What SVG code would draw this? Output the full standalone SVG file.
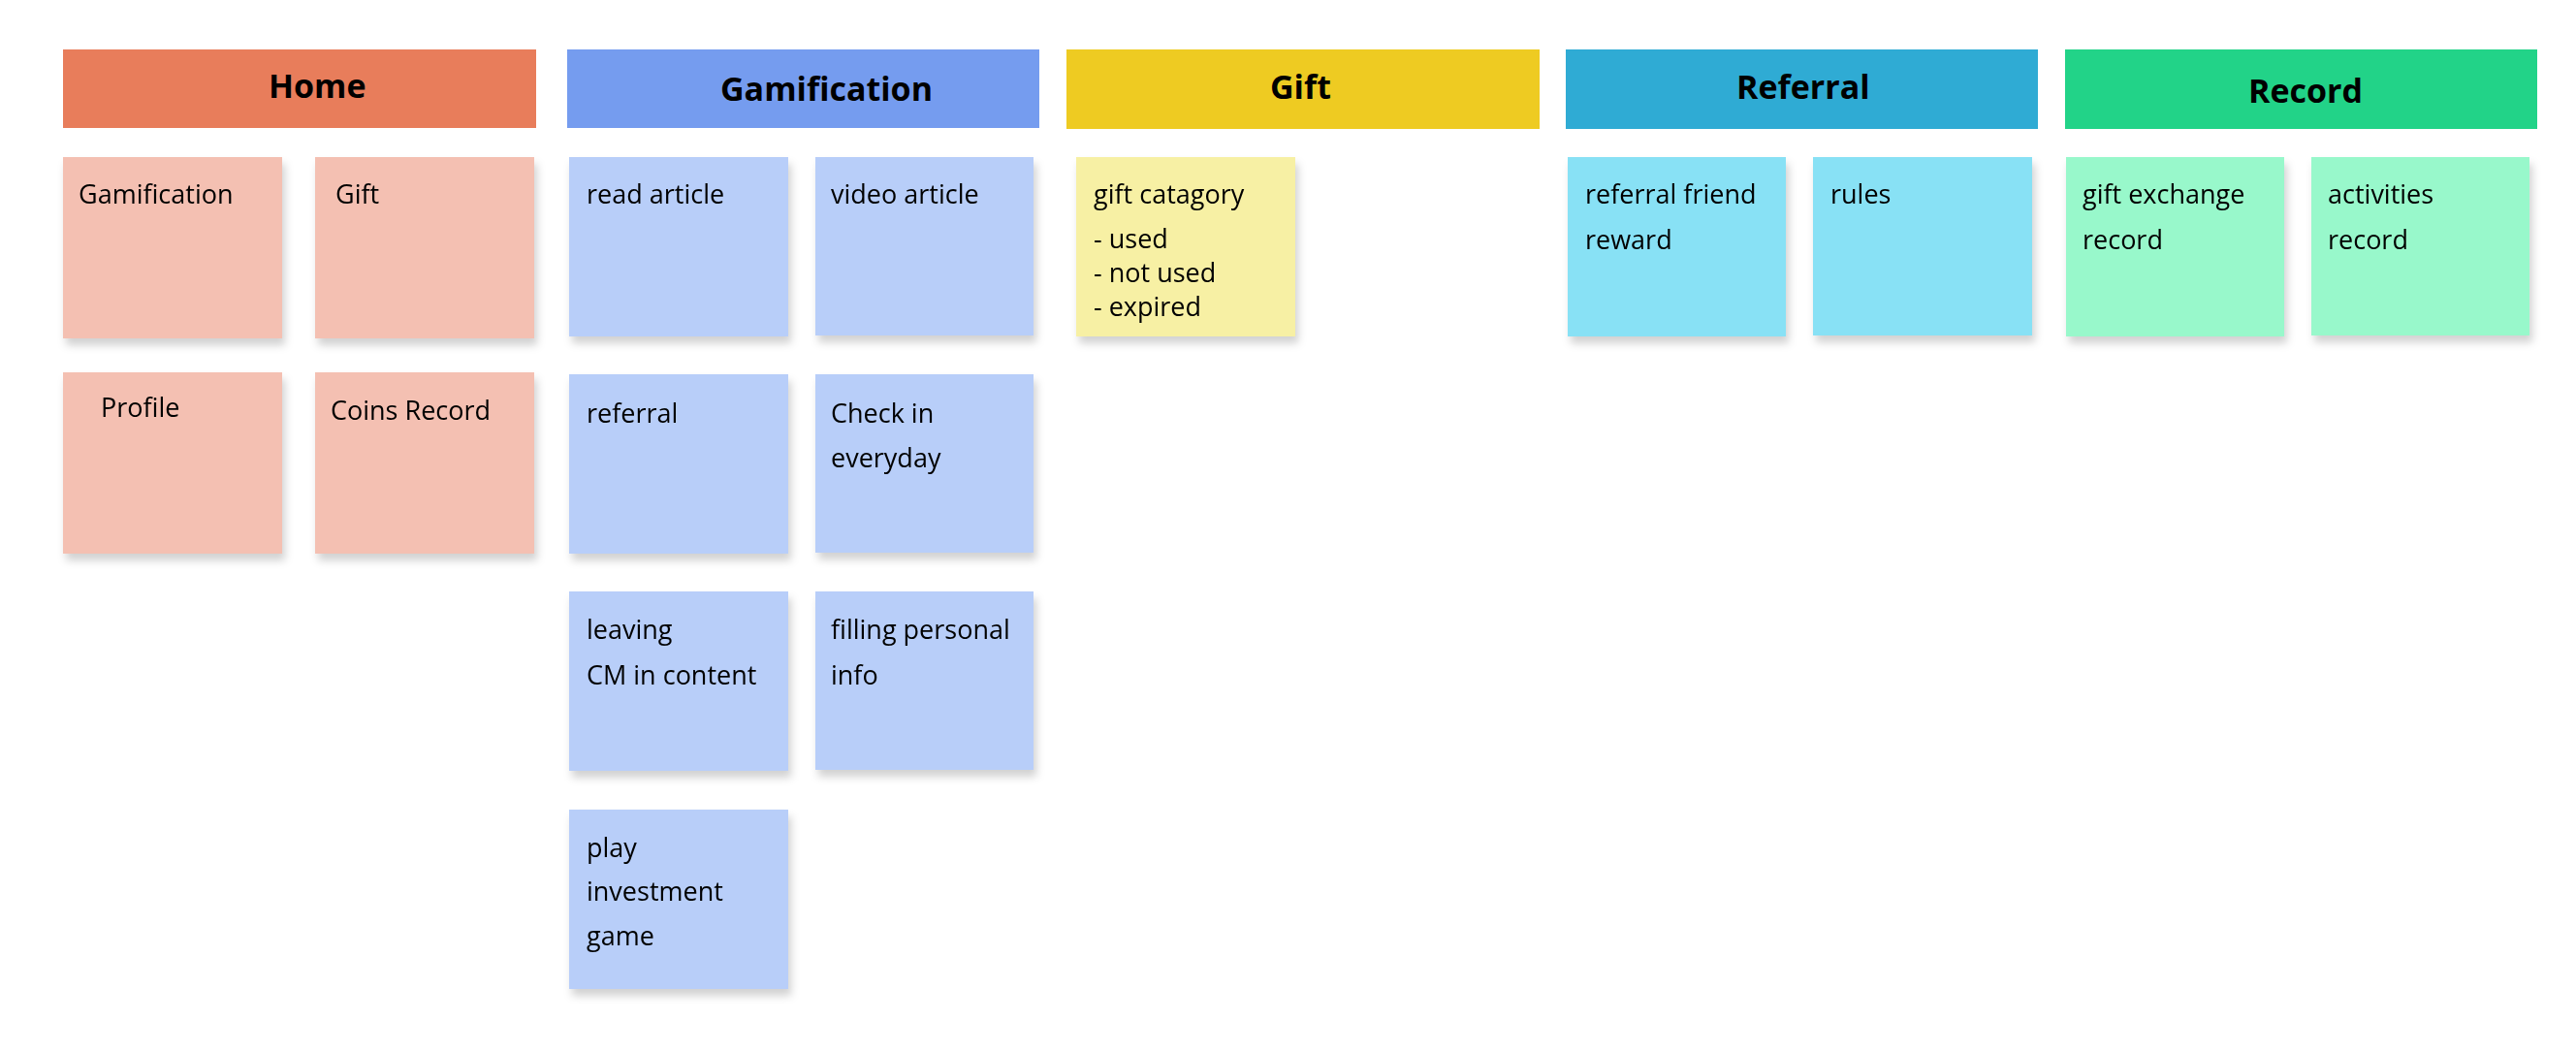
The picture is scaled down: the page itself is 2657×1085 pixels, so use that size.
<svg xmlns="http://www.w3.org/2000/svg" width="2657" height="1085" viewBox="0 0 2657 1085">
<defs>
<filter id="sh" x="-10%" y="-10%" width="125%" height="130%">
<feDropShadow dx="3" dy="7" stdDeviation="4" flood-color="#000" flood-opacity="0.18"/>
</filter>
</defs>
<style>
.hd{font-family:"Open Sans","Noto Sans",sans-serif;font-weight:bold;font-size:34px;fill:#000}
.tx{font-family:"Open Sans","Noto Sans",sans-serif;font-size:27px;fill:#000}
.card{filter:url(#sh)}
.h1{fill:#E87D5B}.c1{fill:#F4C0B2}
.h2{fill:#759CEF}.c2{fill:#B8CEF9}
.h3{fill:#EECB22}.c3{fill:#F7F0A4}
.h4{fill:#2FABD4}.c4{fill:#88E1F5}
.h5{fill:#22D388}.c5{fill:#98F8CB}
</style>
<rect width="2657" height="1085" fill="#fff"/>
<g id="header-home"><rect class="h1" x="65" y="51" width="488" height="81"/><text class="hd" x="277" y="101">Home</text></g>
<g id="header-gamification"><rect class="h2" x="585" y="51" width="487" height="81"/><text class="hd" x="743" y="104">Gamification</text></g>
<g id="header-gift"><rect class="h3" x="1100" y="51" width="488" height="82"/><text class="hd" x="1310" y="102">Gift</text></g>
<g id="header-referral"><rect class="h4" x="1615" y="51" width="487" height="82"/><text class="hd" x="1791" y="102">Referral</text></g>
<g id="header-record"><rect class="h5" x="2130" y="51" width="487" height="82"/><text class="hd" x="2319" y="106">Record</text></g>

<g id="home-gamification" class="card"><rect class="c1" x="65" y="162" width="226" height="187"/><text class="tx" x="81" y="210">Gamification</text></g>
<g id="home-gift" class="card"><rect class="c1" x="325" y="162" width="226" height="187"/><text class="tx" x="346" y="210">Gift</text></g>
<g id="home-profile" class="card"><rect class="c1" x="65" y="384" width="226" height="187"/><text class="tx" x="104" y="430">Profile</text></g>
<g id="home-coins" class="card"><rect class="c1" x="325" y="384" width="226" height="187"/><text class="tx" x="341" y="433">Coins Record</text></g>

<g id="g-read" class="card"><rect class="c2" x="587" y="162" width="226" height="185"/><text class="tx" x="605" y="210">read article</text></g>
<g id="g-video" class="card"><rect class="c2" x="841" y="162" width="225" height="184"/><text class="tx" x="857" y="210">video article</text></g>
<g id="g-referral" class="card"><rect class="c2" x="587" y="386" width="226" height="185"/><text class="tx" x="605" y="436">referral</text></g>
<g id="g-checkin" class="card"><rect class="c2" x="841" y="386" width="225" height="184"/><text class="tx" x="857" y="436">Check in</text><text class="tx" x="857" y="482">everyday</text></g>
<g id="g-leaving" class="card"><rect class="c2" x="587" y="610" width="226" height="185"/><text class="tx" x="605" y="659">leaving</text><text class="tx" x="605" y="706">CM in content</text></g>
<g id="g-filling" class="card"><rect class="c2" x="841" y="610" width="225" height="184"/><text class="tx" x="857" y="659">filling personal</text><text class="tx" x="857" y="706">info</text></g>
<g id="g-play" class="card"><rect class="c2" x="587" y="835" width="226" height="185"/><text class="tx" x="605" y="884">play</text><text class="tx" x="605" y="929">investment</text><text class="tx" x="605" y="975">game</text></g>

<g id="gift-category" class="card"><rect class="c3" x="1110" y="162" width="226" height="185"/><text class="tx" x="1128" y="210">gift catagory</text><text class="tx" x="1128" y="256">- used</text><text class="tx" x="1128" y="291">- not used</text><text class="tx" x="1128" y="326">- expired</text></g>

<g id="ref-friend" class="card"><rect class="c4" x="1617" y="162" width="225" height="185"/><text class="tx" x="1635" y="210">referral friend</text><text class="tx" x="1635" y="257">reward</text></g>
<g id="ref-rules" class="card"><rect class="c4" x="1870" y="162" width="226" height="184"/><text class="tx" x="1888" y="210">rules</text></g>

<g id="rec-gift" class="card"><rect class="c5" x="2131" y="162" width="225" height="185"/><text class="tx" x="2148" y="210">gift exchange</text><text class="tx" x="2148" y="257">record</text></g>
<g id="rec-activities" class="card"><rect class="c5" x="2384" y="162" width="225" height="184"/><text class="tx" x="2401" y="210">activities</text><text class="tx" x="2401" y="257">record</text></g>

<g id="connectors"></g>
</svg>
